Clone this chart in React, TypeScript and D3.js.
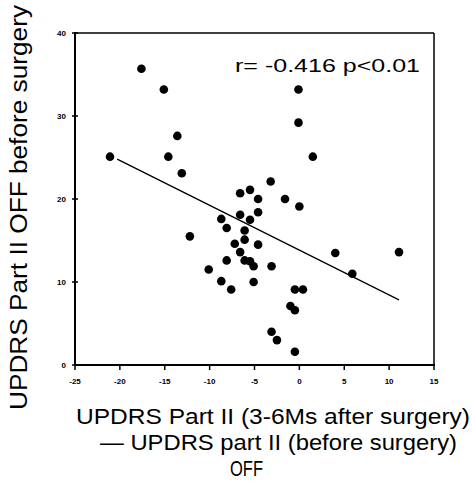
import React from "react";
import * as d3 from "d3";

// Change in UPDRS Part II OFF score (3-6 Ms after surgery minus before surgery)
const changeScores = [
  -21.1, -17.6, -15.1, -13.6, -14.6, -13.1, -12.2, -10.1, -8.7, -8.1,
  -8.1, -8.7, -7.6, -7.2, -6.6, -6.6, -6.6, -6.1, -6.1, -6.1,
  -5.5, -5.5, -5.5, -5.1, -5.1, -4.6, -4.6, -4.6, -3.2, -3.1,
  -3.1, -2.5, -1.6, -1.0, -0.5, -0.5, 0.4, -0.5, -0.1, -0.1,
  0.0, 1.5, 4.0, 5.9, 11.1,
];
// UPDRS Part II OFF score before surgery
const baselineScores = [
  25.1, 35.7, 33.2, 27.6, 25.1, 23.1, 15.5, 11.5, 17.6, 16.5,
  12.6, 10.1, 9.1, 14.6, 20.7, 18.1, 13.6, 16.2, 15.1, 12.6,
  21.1, 17.5, 12.5, 11.9, 10.0, 20.0, 18.4, 14.5, 22.1, 11.9,
  4.0, 3.0, 20.0, 7.1, 6.6, 9.1, 9.1, 1.6, 33.2, 29.2,
  19.1, 25.1, 13.5, 11.0, 13.6,
];
// Regression line end points
const fitX = [-20.3, 11.1];
const fitY = [24.8, 7.85];

const xTicks = [-25, -20, -15, -10, -5, 0, 5, 10, 15];
const yTicks = [0, 10, 20, 30, 40];

const annotation = "r= -0.416  p<0.01";
const yTitle = "UPDRS Part II OFF before surgery";
const xTitleLines = [
  "UPDRS Part II (3-6Ms after surgery)",
  "\u2014 UPDRS part II (before surgery)",
  "OFF",
];

export default function App() {
  const left = 75, right = 434, top = 33, bottom = 365;
  const x = d3.scaleLinear().domain([-25, 15]).range([left, right]);
  const y = d3.scaleLinear().domain([0, 40]).range([bottom, top]);
  const line = d3
    .line<number>()
    .x((d) => x(d))
    .y((_, i) => y(fitY[i]));

  const tickFont = "'Liberation Sans', Arial, sans-serif";
  const titleFont = "'Liberation Sans', Arial, sans-serif";

  return (
    <svg
      width={472}
      height={486}
      style={{ position: "absolute", left: 0, top: 0, background: "#fff" }}
    >
      <rect x={0} y={0} width={472} height={486} fill="#fff" />
      {/* frame */}
      <line x1={left} y1={top} x2={right} y2={top} stroke="#000" strokeWidth={1.5} />
      <line x1={right} y1={top} x2={right} y2={bottom} stroke="#000" strokeWidth={1.5} />
      <line x1={left} y1={top - 1} x2={left} y2={bottom + 1} stroke="#000" strokeWidth={2} />
      <line x1={left - 1} y1={bottom} x2={right + 1} y2={bottom} stroke="#000" strokeWidth={2} />

      {/* y ticks */}
      {yTicks.map((t) => (
        <g key={"y" + t}>
          <line x1={left - 3} x2={left + 3} y1={y(t)} y2={y(t)} stroke="#000" strokeWidth={1.5} />
          <text
            x={left - 9}
            y={y(t) + 3}
            textAnchor="end"
            fontFamily={tickFont}
            fontWeight="bold"
            fontSize={8}
          >
            {t}
          </text>
        </g>
      ))}

      {/* x ticks */}
      {xTicks.map((t) => (
        <g key={"x" + t}>
          <line x1={x(t)} x2={x(t)} y1={bottom} y2={bottom + 5} stroke="#000" strokeWidth={1.5} />
          <text
            x={x(t)}
            y={bottom + 19}
            textAnchor="middle"
            fontFamily={tickFont}
            fontWeight="bold"
            fontSize={8}
          >
            {t}
          </text>
        </g>
      ))}

      {/* regression line */}
      <path d={line(fitX) || ""} fill="none" stroke="#000" strokeWidth={1.3} />

      {/* points */}
      {changeScores.map((cx, i) => (
        <circle key={i} cx={x(cx)} cy={y(baselineScores[i])} r={4.3} fill="#000" />
      ))}

      {/* annotation */}
      <text
        x={235}
        y={72}
        fontFamily={titleFont}
        fontSize={18}
        textLength={185}
        lengthAdjust="spacingAndGlyphs"
      >
        {annotation}
      </text>

      {/* y title */}
      <text
        transform="translate(27,410) rotate(-90)"
        fontFamily={titleFont}
        fontSize={23}
        textLength={405}
        lengthAdjust="spacingAndGlyphs"
      >
        {yTitle}
      </text>

      {/* x title */}
      <text
        x={76}
        y={424}
        fontFamily={titleFont}
        fontSize={22}
        textLength={394}
        lengthAdjust="spacingAndGlyphs"
      >
        {xTitleLines[0]}
      </text>
      <text
        x={100}
        y={450}
        fontFamily={titleFont}
        fontSize={22}
        textLength={357}
        lengthAdjust="spacingAndGlyphs"
      >
        {xTitleLines[1]}
      </text>
      <text
        x={230}
        y={476}
        fontFamily={titleFont}
        fontSize={22}
        textLength={33}
        lengthAdjust="spacingAndGlyphs"
      >
        {xTitleLines[2]}
      </text>
    </svg>
  );
}
